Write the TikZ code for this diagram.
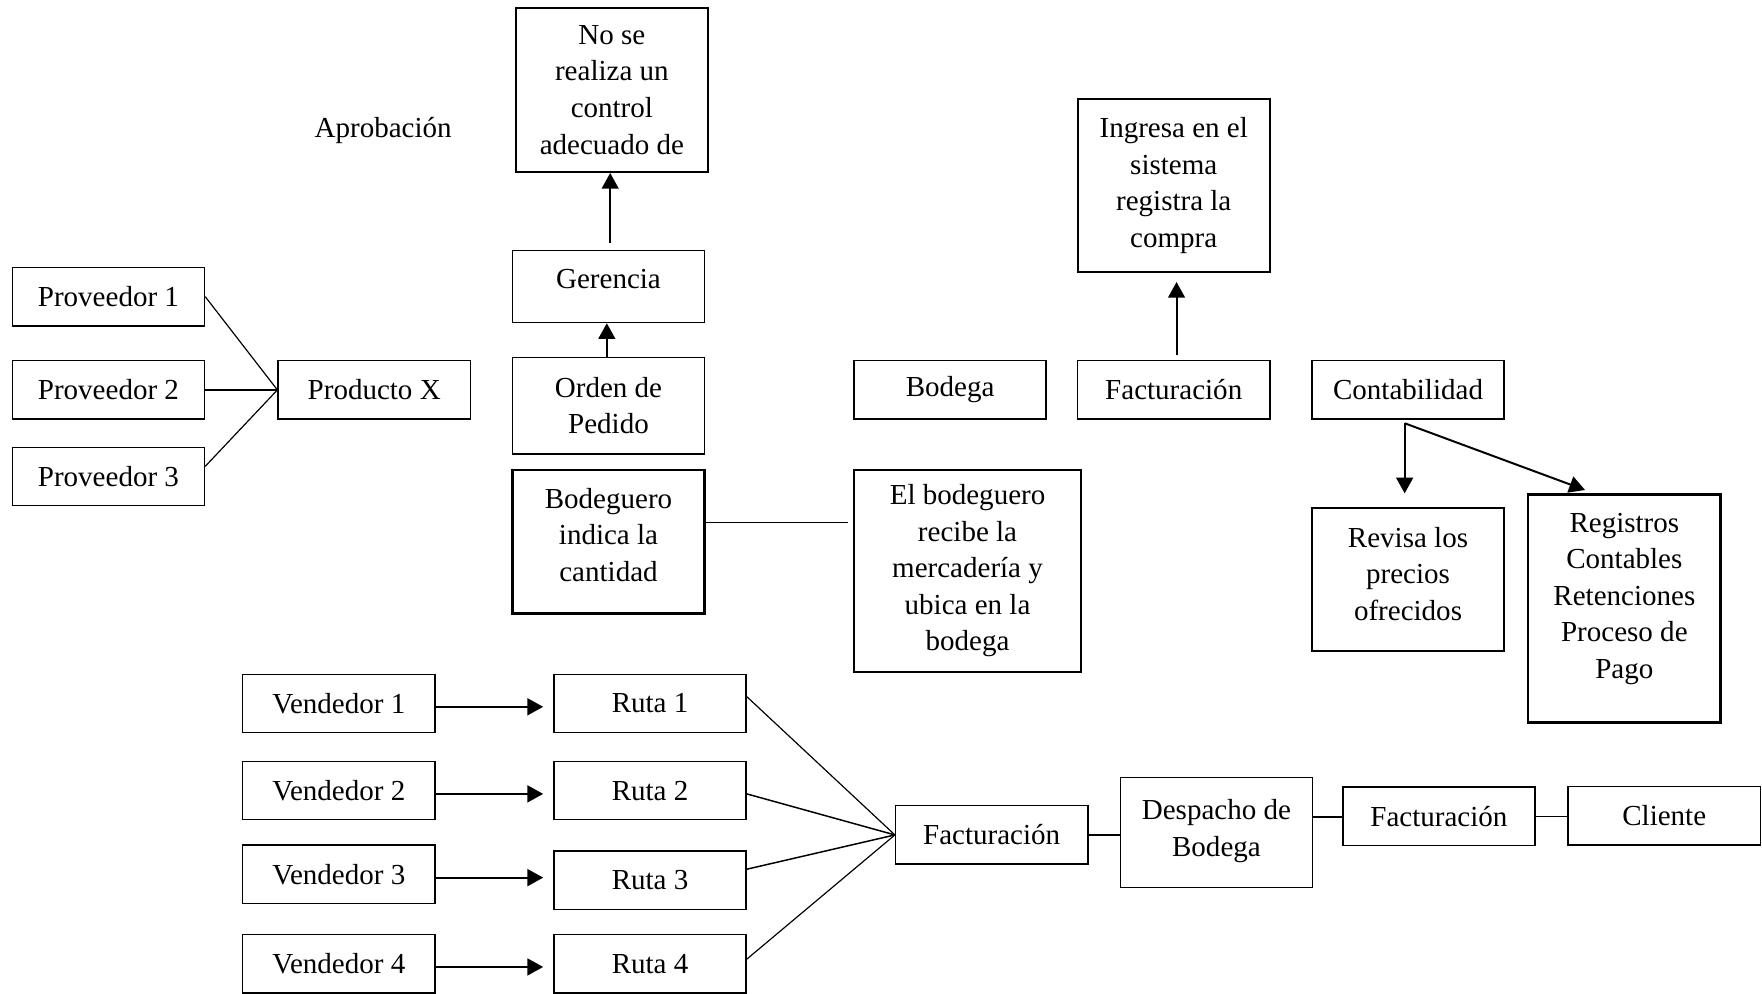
\documentclass[tikz,border=0pt]{standalone}
\usepackage{fontspec}
\setmainfont{Liberation Serif}
\usetikzlibrary{arrows.meta}

\tikzset{
	caja/.style={draw, line width=0.75pt, minimum width=3.42cm, minimum height=1.04cm, align=center, inner sep=0pt},
	cajag/.style={caja, line width=1.1pt},
	flecha/.style={line width=1pt, -{Triangle[length=0.28cm,width=0.3cm]}},
	linea/.style={line width=0.6pt}
}

\begin{document}
\begin{tikzpicture}[x=0.02cm, y=-0.02cm, font=\fontsize{14.7}{18.5}\selectfont]
		\useasboundingbox (0,0) rectangle (1568,884);
		
		% Proveedores
		\node[caja] (prov1) at (96.5,264) {Proveedor 1};
		\node[caja] (prov2) at (96.5,347) {Proveedor 2};
		\node[caja] (prov3) at (96.5,424) {Proveedor 3};
		\node[caja] (prod) at (333,347) {Producto X};
		\draw[linea] (prov1.east) -- (prod.west);
		\draw[linea] (prov2.east) -- (prod.west);
		\draw[linea] ([yshift=0.18cm]prov3.east) -- (prod.west);
		
		% Aprobacion
		\node (aprob) at (341,116) {Aprobación};
		\node[cajag, minimum height=2.92cm] (nose) at (544.5,80) {No se\\realiza un\\control\\adecuado de};
		\node[caja, minimum height=1.28cm] (ger) at (541.5,255) {Gerencia\\[-0.37cm]};
		\node[caja, minimum height=1.72cm] (orden) at (541.5,361) {Orden de\\Pedido};
		\node[cajag, minimum height=2.56cm] (bodeguero) at (541.5,482) {Bodeguero\\indica la\\cantidad\\[-0.41cm]};
		\draw[flecha] ([yshift=0.12cm]ger.north -| 543,0) -- (nose.south -| 543,0);
		\draw[flecha] (orden.north -| 540,0) -- (ger.south -| 540,0);
		
		% Bodega
		\node[cajag, minimum width=4.04cm, minimum height=3.6cm] (elbod) at (861,508) {El bodeguero\\recibe la\\mercadería y\\ubica en la\\bodega};
		\draw[linea] ([yshift=0.34cm]bodeguero.east) -- ++(2.54cm,0);
		\node[caja] (bodega) at (845.5,347) {Bodega};
		
		% Facturacion y contabilidad
		\node[caja] (fact1) at (1044.5,347) {Facturación};
		\node[cajag, minimum height=3.08cm] (ingresa) at (1044.5,165) {Ingresa en el\\sistema\\registra la\\compra};
		\draw[flecha, shorten <=0.08cm, shorten >=0.16cm] ([xshift=0.05cm]fact1.north) -- ([xshift=0.05cm]ingresa.south);
		\node[caja] (conta) at (1253,347) {Contabilidad};
		\node[cajag, minimum height=2.54cm] (revisa) at (1253,515.5) {Revisa los\\precios\\ofrecidos\\[-0.45cm]};
		\node[cajag, minimum height=4.06cm] (reg) at (1445.5,541.5) {Registros\\Contables\\Retenciones\\Proceso de\\Pago\\[-0.19cm]};
		\draw[flecha, shorten >=0.24cm] ([xshift=-0.06cm,yshift=-0.06cm]conta.south) -- ([xshift=-0.06cm]revisa.north);
		\draw[flecha] ([xshift=-0.06cm,yshift=-0.06cm]conta.south) -- ([xshift=-0.7cm,yshift=0.06cm]reg.north);
		
		% Vendedores y rutas
		\foreach \i/\y/\r in {1/626/626, 2/703.5/703.5, 3/778/783.5, 4/857.5/857.5} {
			\node[caja] (v\i) at (301.5,\y) {Vendedor \i};
			\node[caja] (r\i) at (578.5,\r) {Ruta \i};
		}
		\foreach \i in {1,...,4}
			\draw[flecha, shorten >=0.18cm] ([yshift=-0.06cm]v\i.east) -- ([yshift=-0.06cm]v\i.east -| r\i.west);
		
		% Despacho
		\node[caja] (fact2) at (882.5,743) {Facturación};
		\node[caja, minimum height=1.96cm] (desp) at (1082.5,741) {Despacho de\\Bodega\\[-0.49cm]};
		\node[caja] (fact3) at (1280.5,726.5) {Facturación};
		\node[caja] (cliente) at (1481,726) {Cliente};
		\draw[linea] ([yshift=0.12cm]r1.east) -- (fact2.west);
		\draw[linea, line width=0.75pt] ([yshift=-0.06cm]r2.east) -- (fact2.west);
		\draw[linea, line width=0.75pt] ([yshift=0.2cm]r3.east) -- (fact2.west);
		\draw[linea] ([yshift=0.08cm]r4.east) -- (fact2.west);
		\draw[linea] (fact2.east) -- (fact2.east -| desp.west);
		\draw[linea] ([yshift=0.28cm]desp.east) -- ([yshift=0.28cm]desp.east -| fact3.west);
		\draw[linea] (fact3.east) -- (fact3.east -| cliente.west);
	\end{tikzpicture}
\end{document}
